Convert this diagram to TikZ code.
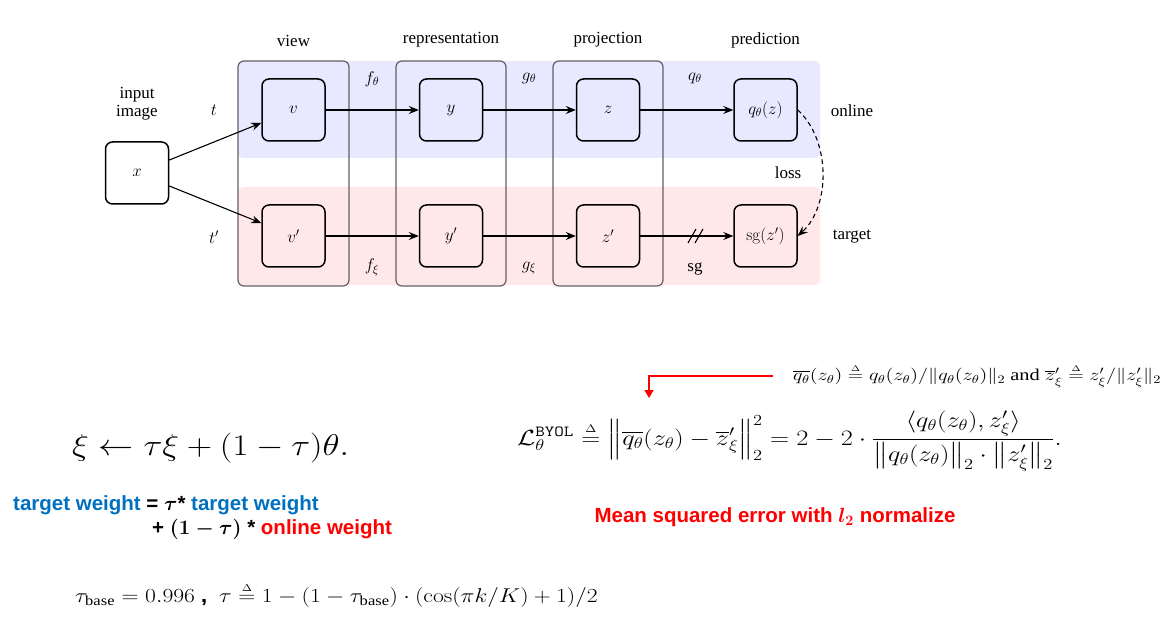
\RequirePackage{fix-cm}
\documentclass[tikz,border=0pt]{standalone}
\usepackage{amsmath,amssymb}
\usepackage[no-math]{fontspec}
\setmainfont{Liberation Serif}
\newfontfamily\kfont{Liberation Sans}
\usetikzlibrary{arrows.meta,calc}
\definecolor{onlinebg}{RGB}{232,232,255}
\definecolor{targetbg}{RGB}{255,232,234}
\definecolor{kblue}{RGB}{0,112,192}
\definecolor{kred}{RGB}{255,0,0}
\newcommand{\deq}{\stackrel{\scriptscriptstyle\Delta}{=}}
\begin{document}
\begin{tikzpicture}[x=1pt,y=-1pt,
  box/.style={draw=black, line width=1.5pt, rounded corners=7pt, minimum width=63pt, minimum height=62pt, inner sep=0pt, font=\fontsize{17}{20}\selectfont},
  col/.style={draw=black!62, line width=1.2pt, rounded corners=6pt},
  lbl/.style={font=\fontsize{17}{18}\selectfont, inner sep=0pt},
  arr/.style={-{Stealth[length=10pt,width=8pt,inset=3.5pt]}, line width=1.1pt},
  ktext/.style={font=\kfont\bfseries\fontsize{20.5}{24}\selectfont, inner sep=0pt, anchor=west},
  eq/.style={inner sep=0pt, anchor=west},
]
\useasboundingbox (0,0) rectangle (1173,620);
\fill[white] (0,0) rectangle (1173,620);
% bands
\fill[onlinebg, rounded corners=5pt] (238,61) rectangle (820,158);
\fill[targetbg, rounded corners=5pt] (238,187) rectangle (820,285);
% column boxes
\draw[col] (238,61) rectangle (349,286);
\draw[col] (396,61) rectangle (506,286);
\draw[col] (553,61) rectangle (663,286);
% nodes
\node[box] (x)  at (137,173)   {$x$};
\node[box] (v)  at (293.5,110) {$v$};
\node[box] (y)  at (451,110)   {$y$};
\node[box] (z)  at (608,110)   {$z$};
\node[box] (q)  at (765.5,110) {$q_\theta(z)$};
\node[box] (vp) at (293.5,236) {$v'$};
\node[box] (yp) at (451,236)   {$y'$};
\node[box] (zp) at (608,236)   {$z'$};
\node[box] (sg) at (765.5,236) {$\mathrm{sg}(z')$};
% connectors
\draw[arr] (x) -- (v);
\draw[arr] (x) -- (vp);
\draw[arr] (v) -- (y);
\draw[arr] (y) -- (z);
\draw[arr] (z) -- (q);
\draw[arr] (vp) -- (yp);
\draw[arr] (yp) -- (zp);
\draw[arr] (zp) -- (sg);
\draw[arr, dash pattern=on 4.5pt off 3.5pt] (q.east) .. controls +(33,30) and +(33,-30) .. (sg.east);
% stop-gradient marks
\coordinate (sl) at (697,236);
\draw[line width=1.1pt] ($(sl)+(-9,7)$) -- ($(sl)+(-1,-7)$);
\draw[line width=1.1pt] ($(sl)+(-2,7)$) -- ($(sl)+(6,-7)$);
% labels
\node[lbl] (lview) at (293.5,41) {view};
\node[lbl] (lrep)  at (451,40)   {representation};
\node[lbl] (lproj) at (608,40)   {projection};
\node[lbl] (lpred) at (765.5,40) {prediction};
\node[lbl, align=center] (lin) at (137,104) {input\\image};
\node[lbl] (lt)  at (214,110) {$t$};
\node[lbl] (ltp) at (214,237) {$t'$};
\node[lbl] (lf)  at (372,79)  {$f_\theta$};
\node[lbl] (lg)  at (529,78)  {$g_\theta$};
\node[lbl] (lq)  at (695,78)  {$q_\theta$};
\node[lbl] (lfx) at (372,267) {$f_\xi$};
\node[lbl] (lgx) at (529,268) {$g_\xi$};
\node[lbl] (lsg) at (695,269) {sg};
\node[lbl] (lon) at (852,111) {online};
\node[lbl] (lta) at (852,237) {target};
\node[lbl] (llo) at (788,173) {loss};
% bottom: EMA update
\node[eq, font=\fontsize{30}{34}\selectfont] (ema) at (72,448) {\scalebox{1.17}[1]{$\xi \leftarrow \tau\xi + (1-\tau)\theta.$}};
\node[ktext, text=kblue] (w1) at (13,505) {target weight \textcolor{black}{= $\boldsymbol{\tau}$*} target weight};
\node[ktext] (w2) at (152,529) {+ $\boldsymbol{(1-\tau)}$ * \textcolor{kred}{online weight}};
\node[eq, font=\fontsize{20}{24}\selectfont] (tb) at (75,595) {\scalebox{1.18}[1]{$\tau_{\text{base}} = 0.996$ {\kfont\bfseries ,} \ $\tau \deq 1 - (1-\tau_{\text{base}})\cdot(\cos(\pi k/K)+1)/2$}};
% bottom: loss
\node[eq, font=\fontsize{16.5}{19}\selectfont] (def) at (793,376) {\scalebox{1.235}[1]{$\overline{q_\theta}(z_\theta)\deq q_\theta(z_\theta)/\|q_\theta(z_\theta)\|_2$ and $\overline{z}'_\xi\deq z'_\xi/\|z'_\xi\|_2$}};
\coordinate (ra) at (773,376);
\coordinate (rb) at (649,398);
\draw[kred, line width=1.5pt, -{Triangle[length=8pt,width=9pt]}] (ra) -| (rb);
\node[eq, font=\fontsize{22}{26}\selectfont] (loss) at (517,441) {\scalebox{1.2}[1]{$\displaystyle \mathcal{L}_\theta^{\texttt{BYOL}} \deq \Big\|\overline{q_\theta}(z_\theta) - \overline{z}'_\xi\Big\|_2^2 = 2 - 2\cdot\frac{\langle q_\theta(z_\theta), z'_\xi\rangle}{\big\|q_\theta(z_\theta)\big\|_2\cdot\big\|z'_\xi\big\|_2}.$}};
\node[inner sep=0pt, font=\kfont\bfseries\fontsize{20.5}{24}\selectfont, text=kred] (mse) at (775,517) {Mean squared error with $\boldsymbol{l_2}$ normalize};
\end{tikzpicture}
\end{document}
